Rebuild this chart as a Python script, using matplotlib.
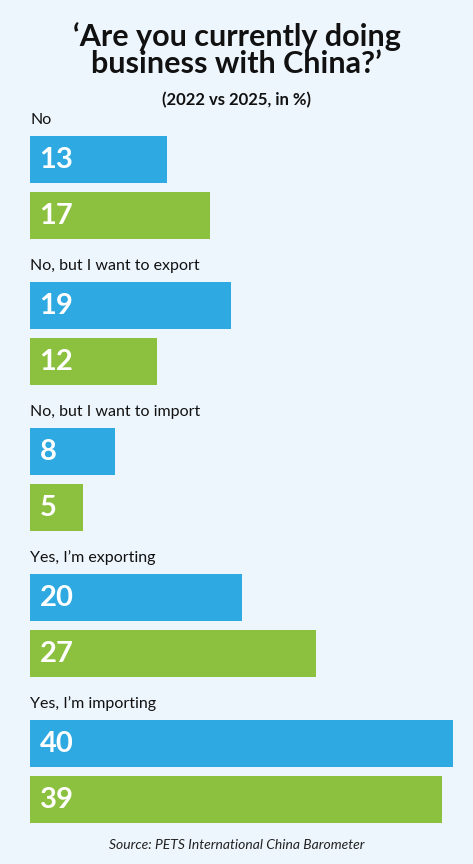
import matplotlib.pyplot as plt

categories = ["No", "No, but I want to export", "No, but I want to import",
              "Yes, I\u2019m exporting", "Yes, I\u2019m importing"]
values_2022 = [13, 19, 8, 20, 40]
values_2025 = [17, 12, 5, 27, 39]

blue = "#2EA9E1"
green = "#8CC03F"
bg = "#EEF6FD"

plt.rcParams['font.family'] = ['Lato', 'DejaVu Sans']

W, H = 473, 864
fig = plt.figure(figsize=(W / 100, H / 100), dpi=100, facecolor=bg)
ax = fig.add_axes([30 / W, 0, 423 / W, 1])
ax.set_facecolor(bg)
ax.set_xlim(0, 40)
ax.set_ylim(H, 0)
ax.axis("off")

for i, cat in enumerate(categories):
    y0 = 146 * i
    ax.text(0, 120 + y0, cat, fontsize=11.5, va="center", ha="left", color="#111")
    yb = 159.5 + y0
    yg = 215.5 + y0
    ax.barh(yb, values_2022[i], height=47, color=blue)
    ax.barh(yg, values_2025[i], height=47, color=green)
    ax.text(0.9, yb + 1, str(values_2022[i]), color="white", fontsize=21,
            fontweight="bold", va="center", ha="left")
    ax.text(0.9, yg + 1, str(values_2025[i]), color="white", fontsize=21,
            fontweight="bold", va="center", ha="left")

fig.text(0.5, 1 - 50 / H, "\u2018Are you currently doing\nbusiness with China?\u2019",
         ha="center", va="center", fontsize=22, fontweight="bold",
         linespacing=0.92, color="#111")
fig.text(0.5, 1 - 100 / H, "(2022 vs 2025, in %)", ha="center", va="center",
         fontsize=12, fontweight="bold", color="#111")
fig.text(0.5, 1 - 845 / H, "Source: PETS International China Barometer",
         ha="center", va="center", fontsize=10, style="italic", color="#222")

fig.savefig("out.png", dpi=100, facecolor=bg)
